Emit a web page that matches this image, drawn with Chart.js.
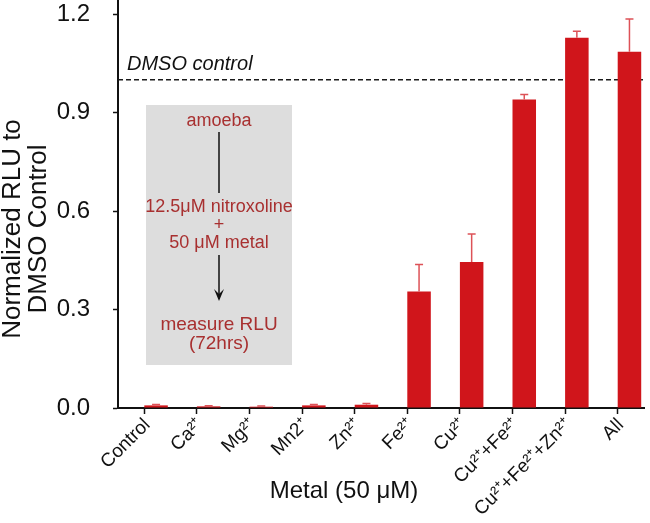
<!DOCTYPE html>
<html>
<head>
<meta charset="utf-8">
<script src="https://cdn.jsdelivr.net/npm/chart.js@4"></script>
<style>
  body { margin: 0; background: #fff; }
  #wrap { width: 650px; height: 523px; }
</style>
</head>
<body>
<div id="wrap"><canvas id="metalChart"></canvas></div>
<script>
// data
const metals = ['Control', 'Ca²⁺', 'Mg²⁺', 'Mn2⁺', 'Zn²⁺', 'Fe²⁺', 'Cu²⁺', 'Cu²⁺+Fe²⁺', 'Cu²⁺+Fe²⁺+Zn²⁺', 'All'];
const rluValues = [0.008, 0.005, 0.004, 0.008, 0.010, 0.355, 0.445, 0.940, 1.128, 1.085];
const rluErrors = [0.003, 0.002, 0.002, 0.003, 0.004, 0.082, 0.085, 0.015, 0.020, 0.100];
const yTicks = [0, 0.3, 0.6, 0.9, 1.2];
const dmsoControl = 1.0;

const barRed = '#d0151b';
const errRed = '#dd5257';
const boxText = '#a83030';
const fontFamily = "'Liberation Sans', Arial, sans-serif";

// dashed DMSO reference line + label
const dmsoLine = {
    id: 'dmsoLine',
    beforeDatasetsDraw(chart) {
        const ctx = chart.ctx;
        const area = chart.chartArea;
        const y = chart.scales.y.getPixelForValue(dmsoControl);
        ctx.save();
        ctx.strokeStyle = '#1a1a1a';
        ctx.lineWidth = 1.5;
        ctx.setLineDash([5, 3]);
        ctx.beginPath();
        ctx.moveTo(area.left, y);
        ctx.lineTo(area.right, y);
        ctx.stroke();
        ctx.setLineDash([]);
        ctx.fillStyle = '#111';
        ctx.font = "italic 20px " + fontFamily;
        ctx.textAlign = 'left';
        ctx.textBaseline = 'alphabetic';
        ctx.fillText('DMSO control', area.left + 9, y - 10);
        ctx.restore();
    }
};

// grey inset with the assay steps
const assayBox = {
    id: 'assayBox',
    beforeDatasetsDraw(chart) {
        const ctx = chart.ctx;
        const cx = 219;
        ctx.save();
        ctx.fillStyle = '#dddddd';
        ctx.fillRect(146, 105, 146, 260);

        ctx.fillStyle = boxText;
        ctx.font = "18px " + fontFamily;
        ctx.textAlign = 'center';
        ctx.textBaseline = 'middle';
        ctx.fillText('amoeba', cx, 121);
        ctx.fillText('12.5μM nitroxoline', cx, 207);
        ctx.fillText('+', cx, 225);
        ctx.fillText('50 μM metal', cx, 243);
        ctx.font = "19px " + fontFamily;
        ctx.fillText('measure RLU', cx, 325);
        ctx.fillText('(72hrs)', cx, 344);

        ctx.strokeStyle = '#111';
        ctx.lineWidth = 1.5;
        ctx.beginPath();
        ctx.moveTo(cx, 132);
        ctx.lineTo(cx, 193);
        ctx.moveTo(cx, 255);
        ctx.lineTo(cx, 299);
        ctx.stroke();
        // arrow head
        ctx.fillStyle = '#111';
        ctx.beginPath();
        ctx.moveTo(cx - 5, 289);
        ctx.lineTo(cx, 301);
        ctx.lineTo(cx + 5, 289);
        ctx.lineTo(cx, 294);
        ctx.closePath();
        ctx.fill();
        ctx.restore();
    }
};

// upper error bars on the real bars
const errorBars = {
    id: 'errorBars',
    afterDatasetsDraw(chart) {
        const ctx = chart.ctx;
        const yScale = chart.scales.y;
        const meta = chart.getDatasetMeta(1);
        ctx.save();
        ctx.strokeStyle = errRed;
        ctx.lineWidth = 1.5;
        meta.data.forEach((bar, i) => {
            const top = yScale.getPixelForValue(rluValues[i] + rluErrors[i]);
            ctx.beginPath();
            ctx.moveTo(bar.x, bar.y);
            ctx.lineTo(bar.x, top);
            ctx.moveTo(bar.x - 4, top);
            ctx.lineTo(bar.x + 4, top);
            ctx.stroke();
        });
        ctx.restore();
    }
};

// axis titles (placed like the figure, not centred on the panel)
const axisTitles = {
    id: 'axisTitles',
    afterDraw(chart) {
        const ctx = chart.ctx;
        ctx.save();
        ctx.fillStyle = '#111';
        ctx.textAlign = 'center';
        ctx.textBaseline = 'middle';
        ctx.font = "24px " + fontFamily;
        ctx.fillText('Metal (50 μM)', 344, 491);
        ctx.font = "26px " + fontFamily;
        ctx.translate(0, 229);
        ctx.rotate(-Math.PI / 2);
        ctx.fillText('Normalized RLU to', 0, 13);
        ctx.fillText('DMSO Control', 0, 39);
        ctx.restore();
    }
};

const metalChart = new Chart(document.getElementById('metalChart'), {
    type: 'bar',
    data: {
        labels: metals,
        datasets: [{
            // empty left slot so each bar sits right of its tick
            label: 'spacer',
            data: metals.map(() => null)
        }, {
            label: 'Normalized RLU',
            data: rluValues,
            backgroundColor: barRed,
            borderWidth: 0
        }]
    },
    options: {
        responsive: true,
        maintainAspectRatio: false,
        animation: false,
        devicePixelRatio: 1,
        categoryPercentage: 0.894,
        barPercentage: 1,
        layout: { padding: { top: 0, right: 6, bottom: 0, left: 0 } },
        plugins: {
            legend: { display: false },
            tooltip: { enabled: false }
        },
        scales: {
            x: {
                offset: true,
                grid: {
                    offset: false,
                    drawOnChartArea: false,
                    drawTicks: true,
                    tickLength: 6,
                    tickWidth: 1.5,
                    tickColor: '#111'
                },
                border: { display: true, color: '#111', width: 2 },
                ticks: {
                    color: '#111',
                    font: { family: fontFamily, size: 19 },
                    minRotation: 45,
                    maxRotation: 45,
                    autoSkip: false,
                    labelOffset: 3,
                    padding: 0
                },
                afterFit(scale) {
                    scale.height = 115;
                    scale.paddingLeft = 0;
                    scale.paddingRight = 0;
                }
            },
            y: {
                min: 0,
                max: 1.243,
                afterBuildTicks(scale) {
                    scale.ticks = yTicks.map(v => ({ value: v }));
                },
                grid: {
                    drawOnChartArea: false,
                    drawTicks: true,
                    tickLength: 5,
                    tickWidth: 1.5,
                    tickColor: '#111'
                },
                border: { display: true, color: '#111', width: 2 },
                ticks: {
                    color: '#111',
                    font: { family: fontFamily, size: 24 },
                    padding: 23,
                    callback: v => v.toFixed(1)
                },
                afterFit(scale) {
                    scale.width = 118;
                    scale.paddingTop = 0;
                    scale.paddingBottom = 0;
                }
            }
        }
    },
    plugins: [dmsoLine, assayBox, errorBars, axisTitles]
});
</script>
</body>
</html>
